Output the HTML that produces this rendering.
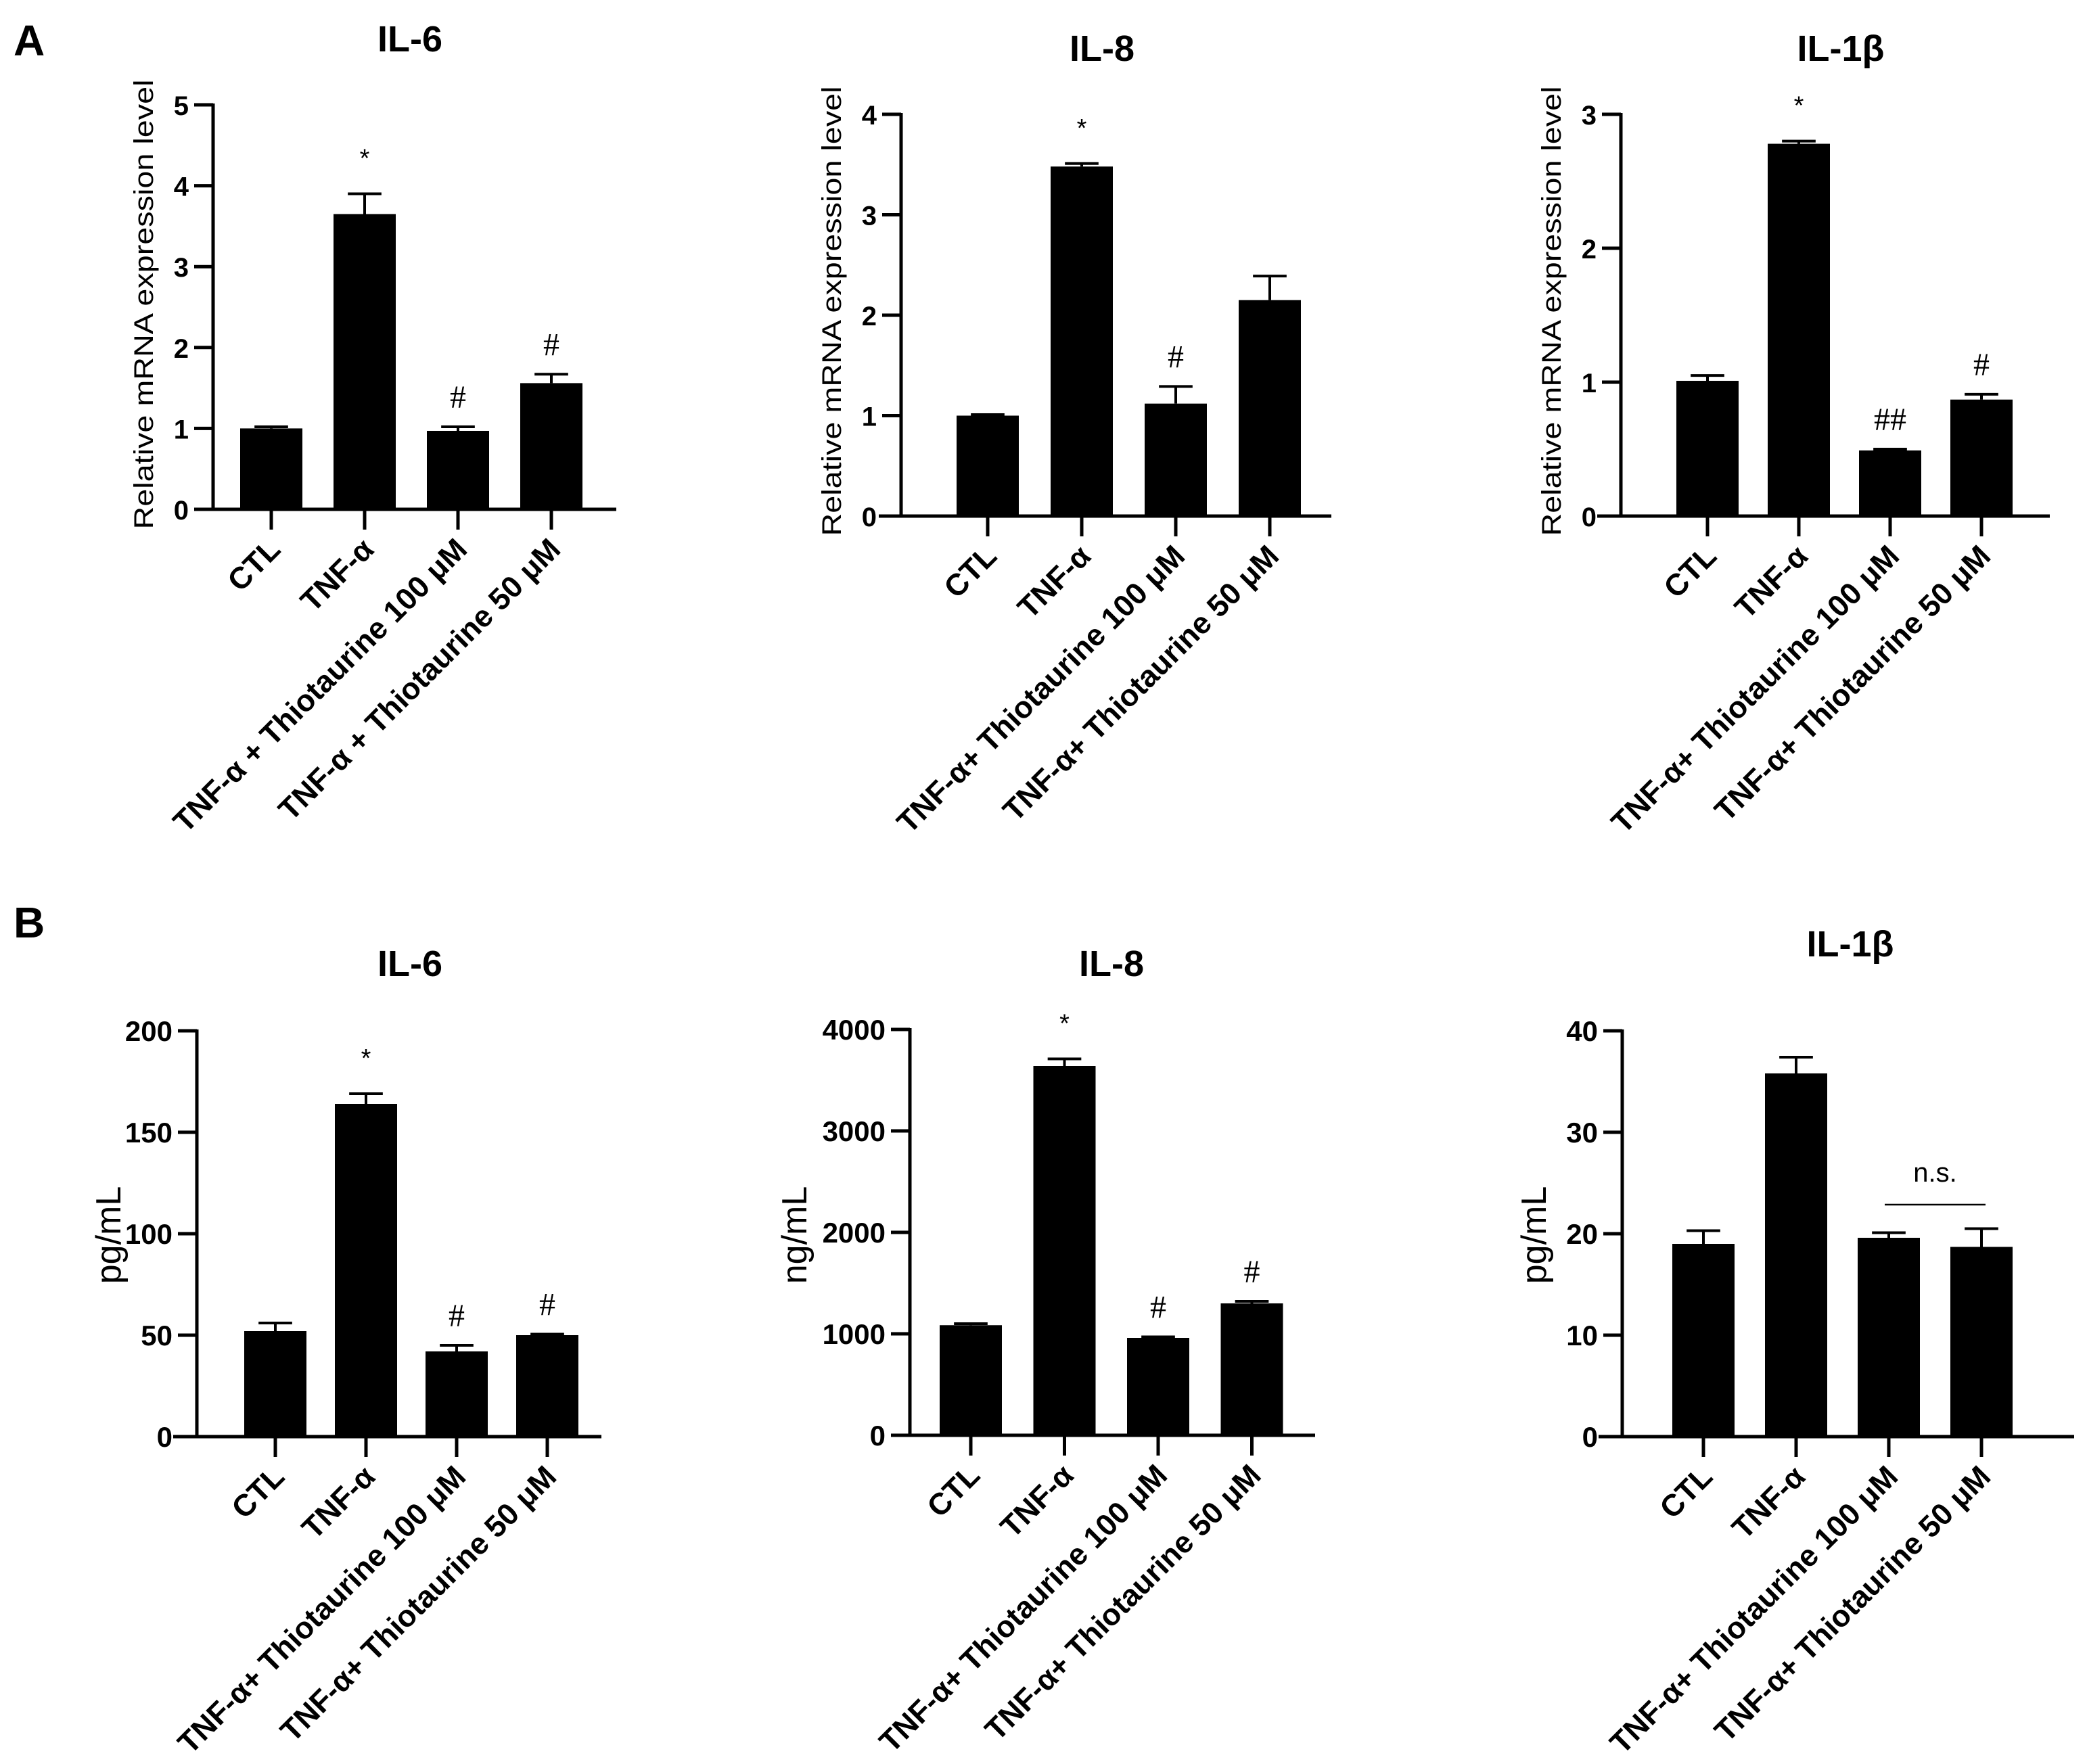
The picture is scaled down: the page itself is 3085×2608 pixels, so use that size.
<!DOCTYPE html>
<html><head><meta charset="utf-8">
<style>
html,body{margin:0;padding:0;background:#fff;}
svg{display:block;font-family:"Liberation Sans",Arial,sans-serif;}
</style></head>
<body>
<svg id="fig" width="3085" height="2608" viewBox="0 0 3085 2608" xmlns="http://www.w3.org/2000/svg">
<text x="20" y="82" font-size="64" font-weight="bold">A</text>
<text x="20" y="1386" font-size="64" font-weight="bold">B</text>
</svg>
<script>
const categories = ["CTL","TNF-α","TNF-α + Thiotaurine 100 μM","TNF-α + Thiotaurine 50 μM"];
const categoriesB = ["CTL","TNF-α","TNF-α+ Thiotaurine 100 μM","TNF-α+ Thiotaurine 50 μM"];
const aIL6Values = [1.0, 3.65, 0.97, 1.56];
const aIL6Errors = [0.02, 0.25, 0.05, 0.11];
const aIL6Marks = ["", "*", "#", "#"];
const aIL6Ticks = [0,1,2,3,4,5];
const aIL8Values = [1.0, 3.48, 1.12, 2.15];
const aIL8Errors = [0.01, 0.03, 0.17, 0.24];
const aIL8Marks = ["", "*", "#", ""];
const aIL8Ticks = [0,1,2,3,4];
const aIL1bValues = [1.01, 2.78, 0.49, 0.87];
const aIL1bErrors = [0.04, 0.02, 0.01, 0.04];
const aIL1bMarks = ["", "*", "##", "#"];
const aIL1bTicks = [0,1,2,3];
const bIL6Values = [52, 164, 42, 50];
const bIL6Errors = [4, 5, 3, 0.5];
const bIL6Marks = ["", "*", "#", "#"];
const bIL6Ticks = [0,50,100,150,200];
const bIL8Values = [1085, 3640, 960, 1300];
const bIL8Errors = [15, 70, 10, 20];
const bIL8Marks = ["", "*", "#", "#"];
const bIL8Ticks = [0,1000,2000,3000,4000];
const bIL1bValues = [19.0, 35.8, 19.6, 18.7];
const bIL1bErrors = [1.3, 1.6, 0.5, 1.8];
const bIL1bMarks = ["", "", "", ""];
const bIL1bTicks = [0,10,20,30,40];

const NS = "http://www.w3.org/2000/svg";
const svg = document.getElementById("fig");
function mk(tag, attrs, parent, text){
  const e = document.createElementNS(NS, tag);
  for (const k in attrs) e.setAttribute(k, attrs[k]);
  if (text !== undefined) e.textContent = text;
  (parent||svg).appendChild(e);
  return e;
}

function panel(p){
  const g = mk("g", {});
  
  
  const ymax = p.ticks[p.ticks.length-1];
  const ys = v => p.y0 - (v/ymax)*(p.y0 - p.ytop);
  const xs = i => p.x0 + p.gap*i;
  const t = mk("text", {x:p.tx, y:p.ty, "font-size":54, "font-weight":"bold", "text-anchor":"middle"}, g, p.title);
  
  
  const ylAttrs = {x:0, y:0, "font-size":p.ylfs, "text-anchor":"middle", transform:`translate(${p.ax-p.yloff},${p.yly}) rotate(-90)`};
  if (p.yllen){ ylAttrs.textLength = p.yllen; ylAttrs.lengthAdjust = "spacingAndGlyphs"; }
  const yl = mk("text", ylAttrs, g, p.ylabel);
  
  
  p.values.forEach((v,i)=>{
    const cx = xs(i);
    const top = ys(v);
    const eTop = ys(v + p.errors[i]);
    const eb = mk("path", {d:`M${cx},${top} V${eTop} M${cx-p.bw*0.27},${eTop} H${cx+p.bw*0.27}`, stroke:"#000", "stroke-width":4, fill:"none"}, g);
    
    
    const r = mk("rect", {x:cx-p.bw/2, y:top, width:p.bw, height:p.y0-top, fill:"#000"}, g);
    
    
    if (p.marks[i]){
      const star = p.marks[i] === "*";
      const m = mk("text", {x:cx, y:eTop - (star?40:28), "font-size":star?38:48, "text-anchor":"middle", "font-family":star?"Liberation Sans, sans-serif":"Liberation Serif, serif"}, g, p.marks[i]);
      
      
    }
    mk("line", {x1:cx, y1:p.y0, x2:cx, y2:p.y0+30, stroke:"#000", "stroke-width":5}, g);
    const lab = mk("text", {x:0, y:0, "font-size":45, "font-weight":"bold", "text-anchor":"end", transform:`translate(${cx+16},${p.y0+62}) rotate(-45)`}, g, p.cats[i]);
    
    
  });
  const ax = mk("path", {d:`M${p.ax},${p.ytop-2} V${p.y0} M${p.xl},${p.y0} H${p.xr}`, stroke:"#000", "stroke-width":5, fill:"none"}, g);
  
  
  p.ticks.forEach(tv=>{
    const y = ys(tv);
    mk("line", {x1:p.ax-28, y1:y, x2:p.ax, y2:y, stroke:"#000", "stroke-width":5}, g);
    const tl = mk("text", {x:p.ax-36, y:y+15, "font-size":p.tfs, "font-weight":"bold", "text-anchor":"end"}, g, String(tv));
    
    
  });
  if (p.ns){
    const l = mk("line", {x1:xs(2)-6, y1:p.ns, x2:xs(3)+6, y2:p.ns, stroke:"#000", "stroke-width":2.5}, g);
    
    
    const nt = mk("text", {x:(xs(2)+xs(3))/2, y:p.ns-34, "font-size":40, "text-anchor":"middle"}, g, "n.s.");
    
    
  }
}

const ylA = "Relative mRNA expression level";
panel({name:"chart-a-il6", title:"IL-6", tx:606, ty:76, ylabel:ylA, ylfs:40, yllen:665, yloff:89, yly:450, tfs:40,
  values:aIL6Values, errors:aIL6Errors, marks:aIL6Marks, ticks:aIL6Ticks, cats:categories,
  ax:315, y0:753, ytop:155, x0:401, gap:138, bw:92, xl:287, xr:911});
panel({name:"chart-a-il8", title:"IL-8", tx:1629, ty:90, ylabel:ylA, ylfs:40, yllen:665, yloff:89, yly:460, tfs:40,
  values:aIL8Values, errors:aIL8Errors, marks:aIL8Marks, ticks:aIL8Ticks, cats:categoriesB,
  ax:1332, y0:763, ytop:169, x0:1460, gap:139, bw:92, xl:1299, xr:1968});
panel({name:"chart-a-il1b", title:"IL-1β", tx:2721, ty:90, ylabel:ylA, ylfs:40, yllen:665, yloff:89, yly:460, tfs:40,
  values:aIL1bValues, errors:aIL1bErrors, marks:aIL1bMarks, ticks:aIL1bTicks, cats:categoriesB,
  ax:2396, y0:763, ytop:169, x0:2524, gap:135, bw:92, xl:2361, xr:3030});
panel({name:"chart-b-il6", title:"IL-6", tx:606, ty:1443, ylabel:"pg/mL", ylfs:52, yloff:113, yly:1826, tfs:42,
  values:bIL6Values, errors:bIL6Errors, marks:bIL6Marks, ticks:bIL6Ticks, cats:categoriesB,
  ax:291, y0:2124, ytop:1524, x0:407, gap:134, bw:92, xl:256, xr:889});
panel({name:"chart-b-il8", title:"IL-8", tx:1643, ty:1443, ylabel:"ng/mL", ylfs:52, yloff:153, yly:1826, tfs:42,
  values:bIL8Values, errors:bIL8Errors, marks:bIL8Marks, ticks:bIL8Ticks, cats:categoriesB,
  ax:1345, y0:2122, ytop:1522, x0:1435, gap:138.5, bw:92, xl:1318, xr:1944});
panel({name:"chart-b-il1b", title:"IL-1β", tx:2735, ty:1414, ylabel:"pg/mL", ylfs:52, yloff:113, yly:1826, tfs:42,
  values:bIL1bValues, errors:bIL1bErrors, marks:bIL1bMarks, ticks:bIL1bTicks, cats:categoriesB,
  ax:2398, y0:2124, ytop:1524, x0:2518, gap:137, bw:92, xl:2363, xr:3066, ns:1781});
</script>
</body></html>
